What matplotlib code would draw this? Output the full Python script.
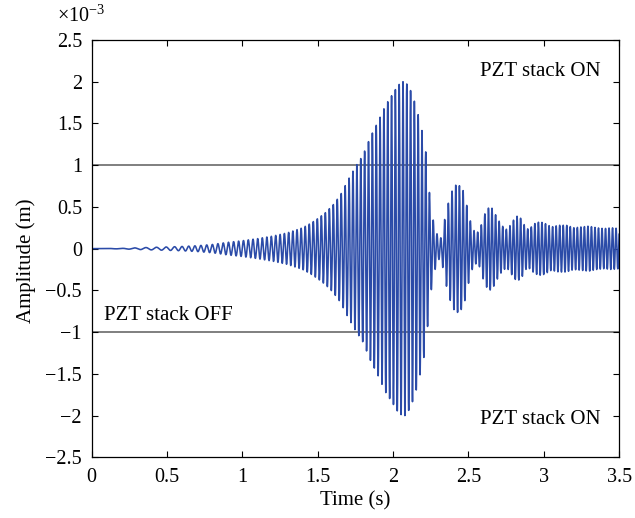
import numpy as np
import matplotlib
matplotlib.use('Agg')
import matplotlib.pyplot as plt
from matplotlib.ticker import FuncFormatter

plt.rcParams['font.family'] = ['Liberation Serif', 'DejaVu Serif']
plt.rcParams['mathtext.fontset'] = 'custom'
plt.rcParams['mathtext.rm'] = 'Liberation Serif'
plt.rcParams['mathtext.it'] = 'Liberation Serif:italic'

# envelope of the response (amplitude in 1e-3 m)
env_t = [0, 0.2, 0.3, 0.4, 0.5, 0.6, 0.7, 0.8, 0.9, 1.0, 1.1, 1.2, 1.3, 1.4, 1.45,
         1.5, 1.55, 1.6, 1.65, 1.7, 1.75, 1.8, 1.85, 1.9, 1.95, 2.0, 2.03, 2.06,
         2.08, 2.1, 2.12, 2.15, 2.17, 2.2, 2.22, 2.245, 2.27, 2.3, 2.32, 2.345,
         2.37, 2.395, 2.42, 2.445, 2.47, 2.5, 2.525, 2.55, 2.575, 2.6, 2.62, 2.64,
         2.66, 2.69, 2.72, 2.75, 2.77, 2.79, 2.82, 2.85, 2.88, 2.9, 2.94, 2.97,
         3.0, 3.05, 3.1, 3.15, 3.2, 3.25, 3.3, 3.35, 3.4, 3.45, 3.5]
env_amp = [0, 0.003, 0.01, 0.015, 0.02, 0.026, 0.035, 0.05, 0.075, 0.095, 0.12,
           0.15, 0.19, 0.25, 0.30, 0.36, 0.43, 0.52, 0.64, 0.82, 0.98, 1.12, 1.34,
           1.52, 1.72, 1.86, 1.95, 2.0, 2.0, 1.95, 1.88, 1.72, 1.58, 1.35, 1.12,
           0.6, 0.3, 0.13, 0.13, 0.38, 0.57, 0.71, 0.77, 0.75, 0.68, 0.42, 0.25,
           0.18, 0.22, 0.38, 0.46, 0.50, 0.48, 0.37, 0.28, 0.23, 0.26, 0.32, 0.39,
           0.36, 0.25, 0.23, 0.30, 0.32, 0.31, 0.26, 0.28, 0.28, 0.25, 0.26, 0.27,
           0.25, 0.24, 0.25, 0.24]

# oscillation frequency (Hz), from the spacing of the peaks
freq_t = [0, 0.3, 0.45, 0.55, 0.65, 0.8, 1.0, 1.2, 1.4, 1.7, 2.0, 2.3, 2.6, 3.5]
freq_hz = [10, 13, 15, 19, 24, 27, 31, 34, 37, 38.5, 39.5, 40, 42, 43]

switch_level = [1, -1]

t = np.linspace(0, 3.5, 35001)
dt = t[1] - t[0]
env = np.interp(t, env_t, env_amp)
phase = 2 * np.pi * np.cumsum(np.interp(t, freq_t, freq_hz)) * dt
y = env * np.sin(phase)

fig = plt.figure(figsize=(6.35, 5.18), dpi=100)
ax = fig.add_axes([0.1444, 0.1172, 0.8306, 0.8056])

for lev in switch_level:
    ax.axhline(lev, color='#7f7f7f', lw=1.4, zorder=1)
ax.plot(t, y, color='#2b4ba8', lw=1.15, zorder=2)

ax.set_xlim(0, 3.5)
ax.set_ylim(-2.5, 2.5)
ax.set_xticks(np.arange(0, 3.51, 0.5))
ax.set_yticks(np.arange(-2.5, 2.51, 0.5))
fmt = FuncFormatter(lambda v, p: ('%g' % v).replace('-', '\u2212'))
ax.xaxis.set_major_formatter(fmt)
ax.yaxis.set_major_formatter(fmt)
ax.tick_params(direction='in', top=True, right=True, length=4, width=0.8,
               labelsize=14.5)
ax.tick_params(axis='x', pad=8)
ax.tick_params(axis='y', pad=7)
for s in ax.spines.values():
    s.set_linewidth(0.9)

ax.set_xlabel('Time (s)', fontsize=15, labelpad=3)
ax.set_ylabel('Amplitude (m)', fontsize=15)
ax.yaxis.set_label_coords(-0.105, 0.47)
fig.text(0.128, 0.968, r'$\times 10^{-3}$', fontsize=14.5, ha='center', va='center')

ax.text(3.375, 2.12, 'PZT stack ON', fontsize=15, ha='right', va='center')
ax.text(3.375, -2.05, 'PZT stack ON', fontsize=15, ha='right', va='center')
ax.text(0.082, -0.8, 'PZT stack OFF', fontsize=15, ha='left', va='center')

fig.savefig('out.png', dpi=100)
